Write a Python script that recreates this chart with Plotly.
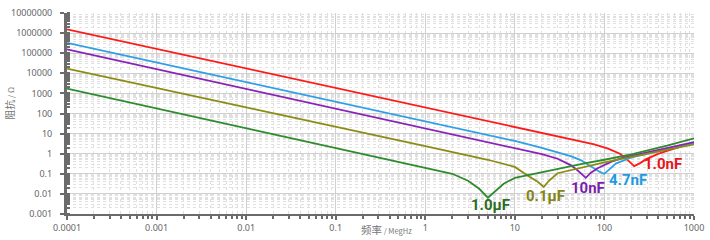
import plotly.graph_objects as go

# ---------------- data ----------------
freq_1n0 = [0.0001, 0.001, 0.01, 0.1, 1, 10, 30, 77, 110, 151, 185, 215, 250, 290, 390, 500, 1000]
z_1n0 = [1.55e6, 1.65e5, 1.76e4, 1.87e3, 198, 21, 7.2, 2.9, 1.8, 0.97, 0.45, 0.24, 0.34, 0.52, 0.95, 1.39, 3.6]

freq_4n7 = [0.0001, 0.001, 0.01, 0.1, 1, 10, 20, 30, 42, 55, 77, 90, 100, 115, 134, 200, 500, 1000]
z_4n7 = [3.3e5, 3.5e4, 3.7e3, 394, 41.7, 4.3, 1.95, 1.2, 0.75, 0.47, 0.19, 0.12, 0.1, 0.18, 0.32, 0.65, 1.7, 3.4]

freq_10n = [0.0001, 0.001, 0.01, 0.1, 1, 10, 20, 30, 42, 50, 56, 62, 70, 84, 120, 166, 300, 1000]
z_10n = [1.55e5, 1.62e4, 1.7e3, 178, 18.6, 1.95, 0.95, 0.56, 0.27, 0.15, 0.09, 0.063, 0.11, 0.19, 0.4, 0.66, 1.15, 3.8]

freq_0u1 = [0.0001, 0.001, 0.01, 0.1, 1, 5, 10, 14, 18, 21, 24, 30, 65, 100, 200, 500, 1000]
z_0u1 = [1.7e4, 1.88e3, 204, 22, 2.4, 0.5, 0.22, 0.08, 0.04, 0.022, 0.045, 0.107, 0.25, 0.37, 0.7, 1.6, 2.9]

freq_1u0 = [0.0001, 0.001, 0.01, 0.1, 1, 2, 3, 4, 5, 6, 7.5, 10, 18, 30, 60, 100, 200, 500, 1000]
z_1u0 = [1.74e3, 181, 18.8, 1.95, 0.204, 0.1, 0.045, 0.018, 0.0065, 0.013, 0.032, 0.063, 0.11, 0.18, 0.33, 0.5, 0.92, 2.5, 5.8]

series_names = ["1.0nF", "4.7nF", "10nF", "0.1μF", "1.0μF"]
series_freqs = [freq_1n0, freq_4n7, freq_10n, freq_0u1, freq_1u0]
series_z = [z_1n0, z_4n7, z_10n, z_0u1, z_1u0]

x_tickvals = [0.0001, 0.001, 0.01, 0.1, 1, 10, 100, 1000]
x_ticktext = ["0.0001", "0.001", "0.01", "0.1", "1", "10", "100", "1000"]
y_tickvals = [0.001, 0.01, 0.1, 1, 10, 100, 1000, 10000, 100000, 1000000, 10000000]
y_ticktext = ["0.001", "0.01", "0.1", "1", "10", "100", "1000", "10000", "100000", "1000000", "10000000"]

# ---------------- styles ----------------
line_colors = ["#ff1a1a", "#2f9fe6", "#8a22b8", "#8c8c14", "#2e8b2e"]
label_colors = ["#e8141b", "#1e9be0", "#7a1fa8", "#858515", "#2a6e1e"]
# label centres in log10 units (x, y)
label_pos = [(2.656, -0.524), (2.267, -1.333), (1.822, -1.714), (1.344, -2.095), (0.733, -2.571)]

fig = go.Figure()
for name, fx, zy, col in zip(series_names, series_freqs, series_z, line_colors):
    fig.add_trace(go.Scatter(x=fx, y=zy, mode="lines", name=name,
                             line=dict(color=col, width=1.8), showlegend=False))

for name, (lx, ly), col in zip(series_names, label_pos, label_colors):
    fig.add_annotation(x=lx, y=ly, xref="x", yref="y", text="<b>" + name + "</b>",
                       showarrow=False, font=dict(size=15, color=col, family="Roboto, Arial"),
                       xanchor="center", yanchor="middle")

axis_font = dict(family="Noto Sans, DejaVu Sans", size=9, color="#666666")

fig.update_xaxes(type="log", range=[-4.0001, 3.0001], tickmode="array", tickvals=x_tickvals,
                 ticktext=x_ticktext, tickfont=axis_font, showline=True, linecolor="#6b6b6b",
                 linewidth=2, ticks="outside", ticklen=4, tickwidth=1.5, tickcolor="#6b6b6b",
                 ticklabeloverflow="allow",
                 showgrid=True, gridcolor="#d0d0d0", gridwidth=1, zeroline=False,
                 minor=dict(dtick="D1", ticks="outside", ticklen=3, tickcolor="#6b6b6b",
                            showgrid=True, gridcolor="#e0e0e0", griddash="dot", gridwidth=1))
fig.update_yaxes(type="log", range=[-3.0001, 7.0001], tickmode="array", tickvals=y_tickvals,
                 ticktext=y_ticktext, tickfont=axis_font, showline=True, linecolor="#6b6b6b",
                 linewidth=3, ticks="outside", ticklen=4, tickwidth=1.5, tickcolor="#6b6b6b",
                 ticklabelstandoff=6, ticklabeloverflow="allow",
                 showgrid=True, gridcolor="#d0d0d0", gridwidth=1, zeroline=False,
                 minor=dict(dtick="D1", ticks="inside", ticklen=3, tickcolor="#6b6b6b",
                            showgrid=True, gridcolor="#e0e0e0", griddash="dot", gridwidth=1))

fig.add_annotation(x=-0.092, y=0.55, xref="paper", yref="paper", textangle=-90,
                   text="阻抗<span style='font-size:8px'> / Ω</span>", showarrow=False,
                   font=dict(family="Noto Sans CJK SC", size=10, color="#777777"),
                   xanchor="center", yanchor="middle")
fig.add_annotation(x=0.465, y=-0.076, xref="paper", yref="paper",
                   text="频率<span style='font-size:7.5px'> / MegHz</span>", showarrow=False,
                   font=dict(family="Noto Sans CJK SC", size=10.5, color="#777777"),
                   xanchor="left", yanchor="middle")

fig.update_layout(width=710, height=240, margin=dict(l=67, r=13, t=6, b=24),
                  plot_bgcolor="white", paper_bgcolor="white")

fig.write_html("out.html", config={"displayModeBar": False},
               post_script="document.body.style.margin='0';document.body.style.overflow='hidden';")
